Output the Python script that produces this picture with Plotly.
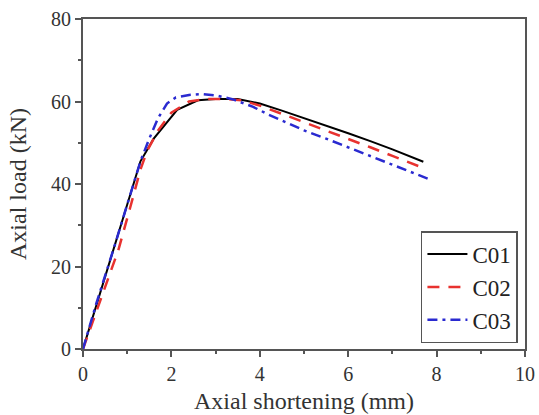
import plotly.graph_objects as go

# Data
c01_x = [0, 0.3, 0.7, 1.0, 1.3, 1.6, 1.9, 2.13, 2.6, 3.0, 3.5, 4.0, 4.5, 5.0, 5.5, 6.0, 6.5, 7.0, 7.7]
c01_y = [0, 10.5, 24.5, 35, 45.5, 51, 55, 58, 60.3, 60.6, 60.6, 59.5, 57.8, 56, 54.2, 52.3, 50.4, 48.4, 45.4]

c02_x = [0, 0.4, 0.8, 1.06, 1.3, 1.45, 1.7, 2.0, 2.4, 2.8, 3.2, 3.6, 4.0, 4.5, 5.0, 5.5, 6.0, 6.5, 7.0, 7.6]
c02_y = [0, 12, 24, 34, 43.5, 48, 53, 57.3, 60, 60.6, 60.6, 60.3, 59, 57, 55, 53, 51, 48.9, 46.8, 44.3]

c03_x = [0, 0.3, 0.7, 1.0, 1.3, 1.5, 1.7, 1.9, 2.1, 2.4, 2.7, 3.0, 3.4, 3.85, 4.2, 4.6, 5.0, 5.5, 6.0, 6.5, 7.0, 7.5, 7.8]
c03_y = [0, 11, 24.5, 35, 45.5, 51, 56, 59.5, 61, 61.6, 61.8, 61.5, 60.5, 58.7, 56.8, 54.9, 53, 51, 48.9, 46.8, 44.7, 42.6, 41.3]

x_ticks = [0, 2, 4, 6, 8, 10]
y_ticks = [0, 20, 40, 60, 80]

FONT = "Liberation Serif, Times New Roman, serif"
AX = "#555555"

fig = go.Figure()
fig.add_trace(go.Scatter(x=c01_x, y=c01_y, mode="lines", name="C01",
                         line=dict(color="black", width=2)))
fig.add_trace(go.Scatter(x=c02_x, y=c02_y, mode="lines", name="C02",
                         line=dict(color="#e8322f", width=2.5, dash="12px,9px")))
fig.add_trace(go.Scatter(x=c03_x, y=c03_y, mode="lines", name="C03",
                         line=dict(color="#2a2ad0", width=2.5, dash="10px,5px,3px,5px")))

axis_common = dict(
    showline=True, linecolor=AX, linewidth=2, mirror=True,
    ticks="outside", ticklen=6, tickwidth=2, tickcolor=AX,
    showgrid=False, zeroline=False, automargin=False,
    tickfont=dict(family=FONT, size=20, color="#333333"),
)

fig.update_xaxes(range=[0, 10], tickvals=x_ticks, ticktext=[str(v) for v in x_ticks],
                 minor=dict(ticks="outside", ticklen=3, tickwidth=2, tickcolor=AX, dtick=1),
                 title=dict(text="Axial shortening (mm)", font=dict(family=FONT, size=24, color="#333333"),
                            standoff=8),
                 **axis_common)
fig.update_yaxes(range=[0, 80], tickvals=y_ticks, ticktext=[str(v) for v in y_ticks],
                 minor=dict(ticks="outside", ticklen=3, tickwidth=2, tickcolor=AX, dtick=10, tick0=0),
                 title=dict(text="Axial load (kN)", font=dict(family=FONT, size=24, color="#333333"),
                            standoff=18),
                 **axis_common)

fig.update_layout(
    width=539, height=415,
    margin=dict(l=83, r=14, t=19, b=66, autoexpand=False),
    font=dict(family=FONT, color="#333333"),
    paper_bgcolor="white", plot_bgcolor="white",
    showlegend=True,
    legend=dict(x=0.984, y=0.018, xanchor="right", yanchor="bottom",
                bordercolor=AX, borderwidth=1.5, bgcolor="white",
                font=dict(family=FONT, size=23, color="#222222"),
                tracegroupgap=0, itemwidth=40),
)

fig.write_html("out.html")
